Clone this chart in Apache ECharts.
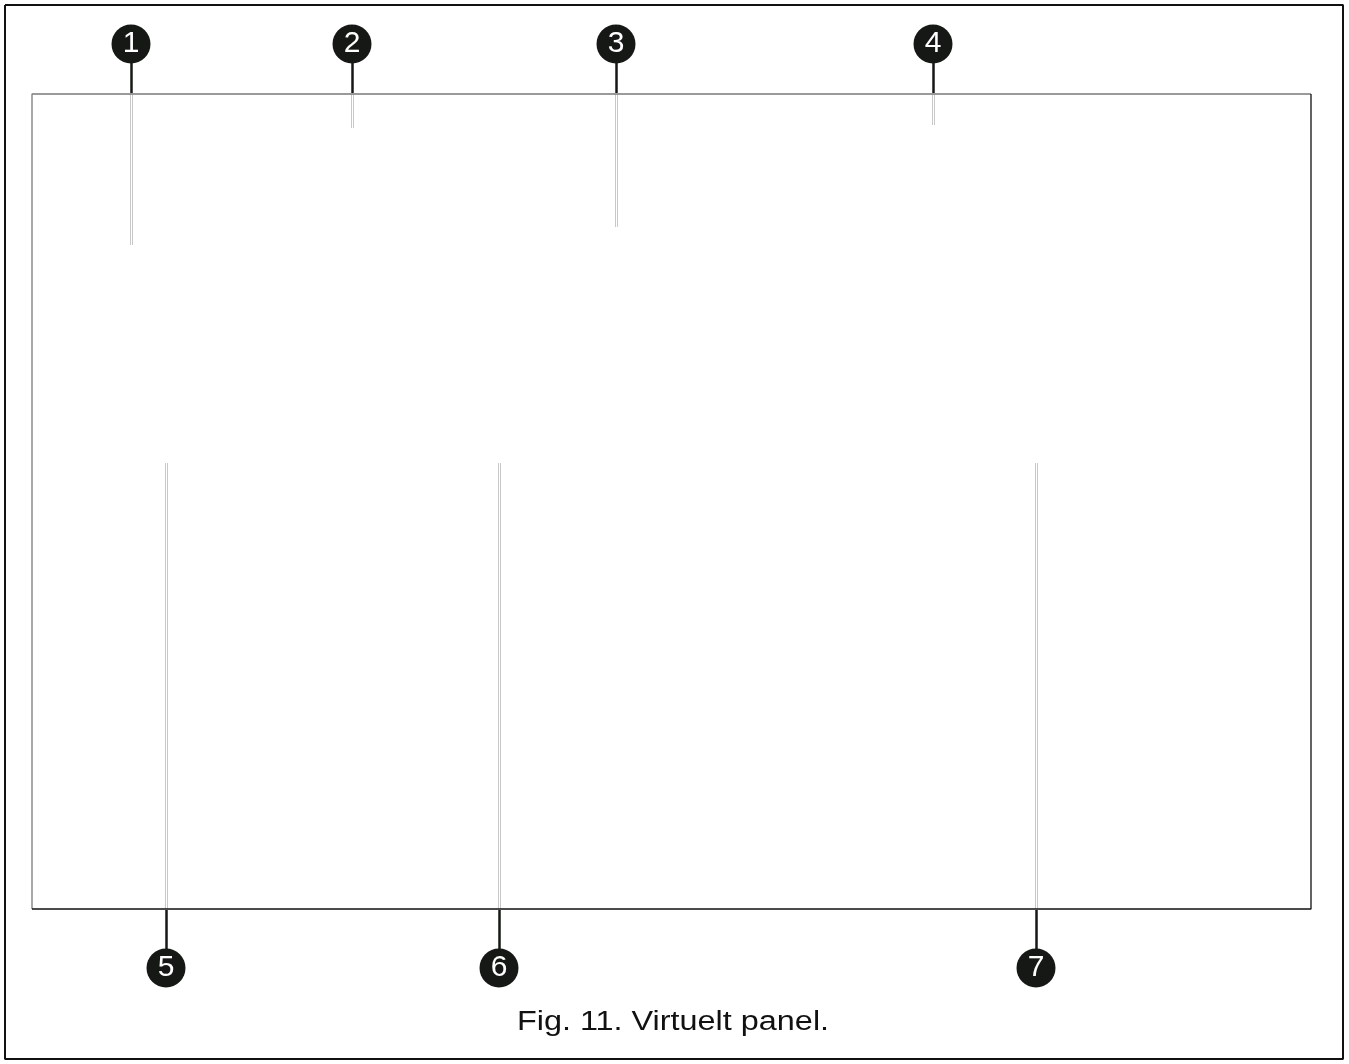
<!DOCTYPE html>
<html>
<head>
<meta charset="utf-8">
<title>Fig. 11. Virtuelt panel.</title>
<script src="https://cdn.jsdelivr.net/npm/echarts@6/dist/echarts.min.js"></script>
<style>
  html, body { margin: 0; padding: 0; background: #fff; }
  #main { width: 1349px; height: 1064px; }
</style>
</head>
<body>
<div id="main"></div>
<script>
// callout numbers and where they sit (page pixels, y grows downwards)
var markerLabels = ['1', '2', '3', '4', '5', '6', '7'];
var markerX = [131, 352, 616, 933, 166, 499, 1036];
var markerY = [44, 44, 44, 44, 968, 968, 968];
// black stem from the circle to the panel edge
var stemFrom = [63, 63, 63, 63, 910, 910, 910];
var stemTo = [93, 93, 93, 93, 949, 949, 949];
// light leader inside the panel
var leadFrom = [94, 94, 94, 94, 463, 463, 463];
var leadTo = [245, 128, 227, 125, 909, 909, 909];

// frame and panel outlines
var frameX = [5, 1343, 1343, 5, 5];
var frameY = [5, 5, 1059, 1059, 5];
var panelLightX = [32, 32, 1311];
var panelLightY = [909, 94, 94];
var panelDarkX = [1311, 1311, 32];
var panelDarkY = [94, 909, 909];

var caption = 'Fig. 11. Virtuelt panel.';

var chart = echarts.init(document.getElementById('main'));

function zip(xs, ys) {
  return xs.map(function (x, i) { return [x, ys[i]]; });
}
function segs(from, to) {
  return markerX.map(function (x, i) {
    return { coords: [[x, from[i]], [x, to[i]]] };
  });
}

var option = {
  animation: false,
  backgroundColor: '#fff',
  grid: { left: 0, right: 0, top: 0, bottom: 0 },
  xAxis: { type: 'value', min: 0, max: 1349, show: false },
  yAxis: { type: 'value', min: 0, max: 1064, inverse: true, show: false },
  // caption in the source is a bit wide, so stretch it sideways
  graphic: [{
    type: 'text',
    x: 673,
    y: 1023,
    scaleX: 1.2,
    style: {
      text: caption,
      font: '27px "Liberation Sans", Arial, sans-serif',
      fill: '#111',
      align: 'center',
      verticalAlign: 'middle'
    }
  }],
  series: [
    {
      type: 'line', data: zip(frameX, frameY), symbol: 'none', silent: true,
      lineStyle: { color: '#111', width: 2 }
    },
    {
      type: 'line', data: zip(panelLightX, panelLightY), symbol: 'none', silent: true,
      lineStyle: { color: '#7a7a7a', width: 1.3 }
    },
    {
      type: 'line', data: zip(panelDarkX, panelDarkY), symbol: 'none', silent: true,
      lineStyle: { color: '#111', width: 1.3 }
    },
    {
      type: 'lines', coordinateSystem: 'cartesian2d', data: segs(leadFrom, leadTo), silent: true,
      lineStyle: { color: '#c8c8c8', width: 3, opacity: 1 }
    },
    {
      type: 'lines', coordinateSystem: 'cartesian2d', data: segs(leadFrom, leadTo), silent: true,
      lineStyle: { color: '#fff', width: 1, opacity: 1 }
    },
    {
      type: 'lines', coordinateSystem: 'cartesian2d', data: segs(stemFrom, stemTo), silent: true,
      lineStyle: { color: '#161816', width: 2.5, opacity: 1 }
    },
    {
      type: 'scatter',
      data: markerX.map(function (x, i) { return { value: [x, markerY[i]], name: markerLabels[i] }; }),
      symbol: 'circle',
      symbolSize: 39,
      itemStyle: { color: '#161816', opacity: 1 },
      label: {
        show: true,
        position: 'inside',
        formatter: '{b}',
        color: '#fff',
        fontFamily: 'Liberation Sans',
        fontSize: 30
      },
      z: 5
    }
  ]
};
chart.setOption(option);
</script>
</body>
</html>
